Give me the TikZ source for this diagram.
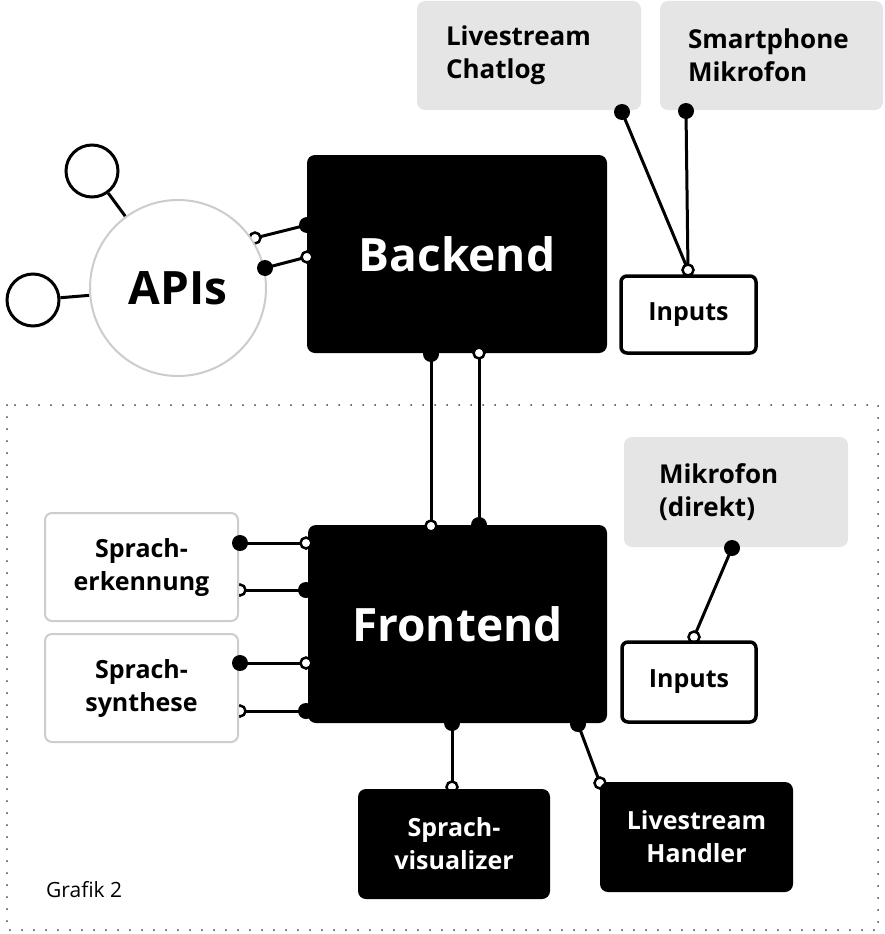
\documentclass[tikz,border=0pt]{standalone}
\usepackage{fontspec}
\setmainfont{Open Sans}
\definecolor{boxgray}{HTML}{E5E5E5}
\definecolor{apigray}{HTML}{CCCCCC}
\definecolor{sgray}{HTML}{CDCDCD}
\pgfdeclarelayer{bg}
\pgfdeclarelayer{fg}
\pgfsetlayers{bg,main,fg}
\begin{document}
\begin{tikzpicture}[x=1pt,y=-1pt,
  blackbox/.style={fill=black,text=white,rounded corners=8pt,inner sep=0pt,align=center,
    font=\bfseries\fontsize{25}{33}\selectfont},
  bigtxt/.style={font=\bfseries\fontsize{46}{50}\selectfont},
  graybox/.style={fill=boxgray,rounded corners=8pt,inner ysep=0pt,align=left,
    minimum width=224pt,minimum height=109pt,font=\bfseries\fontsize{26}{33}\selectfont},
  outbox/.style={draw=black,line width=3.5pt,fill=white,rounded corners=6pt,inner sep=0pt,
    font=\bfseries\fontsize{25}{33}\selectfont},
  lightbox/.style={draw=sgray,line width=2pt,fill=white,rounded corners=7pt,inner sep=0pt,align=center,
    minimum width=193pt,minimum height=108pt,font=\bfseries\fontsize{25}{33}\selectfont},
  ring/.style={circle,draw=black,line width=3pt,minimum size=52pt,inner sep=0pt},
  conn/.style={line width=3pt},
  dotf/.style={fill=black},
  openc/.style={draw=black,line width=2.5pt,fill=white},
  dotborder/.style={draw=black!75,line width=2pt,line cap=round,dash pattern=on 0pt off 12pt}
]
\useasboundingbox (0,0) rectangle (885,934);

% dotted frame
\draw[dotborder] (7,405) rectangle (878,930);

% nodes
\node[blackbox,bigtxt,minimum width=300pt,minimum height=198pt] (backend) at (457,254) {Backend};
\node[blackbox,bigtxt,minimum width=299pt,minimum height=198pt] (frontend) at (457.5,624) {Frontend};
\node[circle,draw=apigray,line width=2pt,fill=white,minimum size=176pt,inner sep=0pt,
      font=\bfseries\fontsize{46}{50}\selectfont] (apis) at (178,288) {APIs};
\node[ring] (api1) at (92,171) {};
\node[ring] (api2) at (33,300) {};
\node[graybox,inner xsep=29pt,text width=166pt] (chatlog) at (529,55.5) {Livestream\\Chatlog};
\node[graybox,inner xsep=28pt,text width=167pt,minimum width=223pt] (smart) at (771.5,55.5) {Smartphone\\Mikrofon};
\node[graybox,inner xsep=35pt,text width=154pt,minimum height=110pt] (mic) at (736,492) {Mikrofon\\(direkt)};
\node[outbox,minimum width=135pt,minimum height=77pt] (inputs1) at (688.5,314.5) {Inputs};
\node[outbox,minimum width=134pt,minimum height=80pt] (inputs2) at (689,682) {Inputs};
\node[lightbox] (erk) at (141.5,567) {Sprach-\\erkennung};
\node[lightbox] (syn) at (141.5,688) {Sprach-\\synthese};
\node[blackbox,minimum width=192pt,minimum height=110pt] (vis) at (454,844) {Sprach-\\visualizer};
\node[blackbox,minimum width=193pt,minimum height=110pt] (lsh) at (696.5,837) {Livestream\\Handler};
\node[anchor=west,inner sep=0pt,font=\fontsize{21}{24}\selectfont] (grafik) at (46,890) {Grafik 2};

% ports
\coordinate (api-r1) at (255,238);
\coordinate (api-r2) at (265,268);
\coordinate (be-l1) at (307,225);
\coordinate (be-l2) at (307,257);
\coordinate (be-b1) at (431,354);
\coordinate (be-b2) at (479,353);
\coordinate (fe-t1) at (431,526);
\coordinate (fe-t2) at (479,525);
\coordinate (fe-l1) at (306,543);
\coordinate (fe-l2) at (306,590);
\coordinate (fe-l3) at (306,663);
\coordinate (fe-l4) at (306,711);
\coordinate (erk-r1) at (240,543);
\coordinate (erk-r2) at (240,590);
\coordinate (syn-r1) at (240,663);
\coordinate (syn-r2) at (240,711);
\coordinate (fe-b1) at (452,723);
\coordinate (fe-b2) at (578,724);
\coordinate (vis-t) at (452,787);
\coordinate (lsh-t) at (600,783);
\coordinate (chat-b) at (622,112);
\coordinate (smart-b) at (686,111);
\coordinate (in1-t) at (688,270);
\coordinate (mic-b) at (732,548);
\coordinate (in2-t) at (694,637);

% connectors (behind the nodes)
\begin{pgfonlayer}{bg}
  \draw[conn] (api1) -- (apis);
  \draw[conn] (api2) -- (apis);
  \draw[conn] (api-r1) -- (be-l1);
  \draw[conn] (api-r2) -- (be-l2);
  \draw[conn] (chat-b) -- (in1-t);
  \draw[conn] (smart-b) -- (in1-t);
  \draw[conn] (be-b1) -- (fe-t1);
  \draw[conn] (be-b2) -- (fe-t2);
  \draw[conn] (erk-r1) -- (fe-l1);
  \draw[conn] (erk-r2) -- (fe-l2);
  \draw[conn] (syn-r1) -- (fe-l3);
  \draw[conn] (syn-r2) -- (fe-l4);
  \draw[conn] (fe-b1) -- (vis-t);
  \draw[conn] (fe-b2) -- (lsh-t);
  \draw[conn] (mic-b) -- (in2-t);
  \foreach \p in {api-r1,erk-r2,syn-r2,vis-t,lsh-t,in1-t,in2-t}
    \path[openc] (\p) circle[radius=5.5];
\end{pgfonlayer}

% ports drawn in front
\begin{pgfonlayer}{fg}
  \foreach \p in {be-l2,be-b2,fe-t1,fe-l1,fe-l3}
    \path[openc] (\p) circle[radius=5.5];
  \foreach \p in {api-r2,be-l1,be-b1,fe-t2,fe-l2,fe-l4,erk-r1,syn-r1,fe-b1,fe-b2,chat-b,smart-b,mic-b}
    \path[dotf] (\p) circle[radius=8];
\end{pgfonlayer}
\end{tikzpicture}
\end{document}
